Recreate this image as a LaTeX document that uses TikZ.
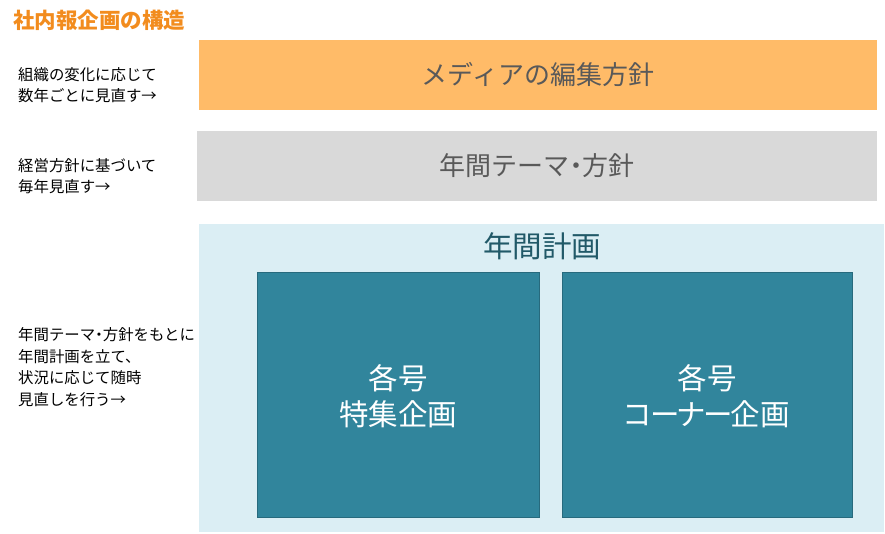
\documentclass[tikz,border=0pt]{standalone}
\usepackage{fontspec}
\setmainfont{Noto Sans CJK JP}
\newfontfamily\paltfont[RawFeature=+palt]{Noto Sans CJK JP}
\definecolor{ttl}{RGB}{242,140,30}
\definecolor{orbox}{RGB}{255,187,104}
\definecolor{grbox}{RGB}{217,217,217}
\definecolor{ltblue}{RGB}{219,238,244}
\definecolor{teal}{RGB}{49,133,156}
\definecolor{tealtxt}{RGB}{33,89,104}
\definecolor{txtgray}{RGB}{89,89,89}
\newcommand{\nakaguro}{{\paltfont ・}}
\begin{document}
\begin{tikzpicture}[x=1pt,y=-1pt,
  lefttxt/.style={anchor=west,align=left,font=\fontsize{15.4}{21.5}\selectfont,text=black,inner sep=0pt},
  band/.style={fill=#1,draw=none},
  boxtxt/.style={font=\fontsize{26}{35}\selectfont,text=txtgray,inner sep=0pt},
  tealbox/.style={fill=teal,draw=teal!80!black,line width=0.5pt},
  whitetxt/.style={font=\fontsize{29.5}{36}\selectfont,text=white,align=center,inner sep=0pt}]
\useasboundingbox (0,0) rectangle (885,533);
\node[anchor=west,font=\bfseries\fontsize{21.5}{24}\selectfont,text=ttl,inner sep=0pt] (title) at (13,20) {社内報企画の構造};
% bands
\path[band=orbox] (199,40) rectangle (877,110);
\path[band=grbox] (197,131) rectangle (877,201);
\path[band=ltblue] (199,224) rectangle (884,532);
\node[boxtxt] (media) at (538,75) {メディアの編集方針};
\node[boxtxt] (theme) at (537,166) {年間テーマ\nakaguro 方針};
\node[boxtxt,font=\fontsize{29.5}{35}\selectfont,text=tealtxt] (plan) at (542,246) {年間計画};
% teal boxes
\draw[tealbox] (257,272) rectangle (539,517);
\draw[tealbox] (562,272) rectangle (852,517);
\node[whitetxt] (tokushu) at (398,396) {各号\\特集企画};
\node[whitetxt] (corner) at (707,396) {各号\\{\paltfont コ\kern-2ptー\kern-2ptナ\kern-2ptー\kern-2pt}企画};
% left texts
\node[lefttxt] (l1) at (18,85) {組織の変化に応じて\\数年ごとに見直す→};
\node[lefttxt] (l2) at (18,176) {経営方針に基づいて\\毎年見直す→};
\node[lefttxt] (l3) at (18,367) {年間テーマ\nakaguro 方針をもとに\\年間計画を立て、\\状況に応じて随時\\見直しを行う→};
\end{tikzpicture}
\end{document}
